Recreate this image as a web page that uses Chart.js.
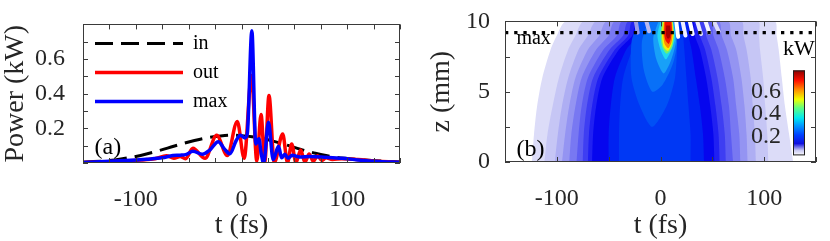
<!DOCTYPE html>
<html>
<head>
<meta charset="utf-8">
<script src="https://cdn.jsdelivr.net/npm/chart.js@4"></script>
<style>
  body { margin: 0; background: #fff; }
  #chartA { position: absolute; left: 0; top: 0; }
  #chartB { position: absolute; left: 420px; top: 0; }
</style>
</head>
<body>
<canvas id="chartA" width="420" height="241"></canvas>
<canvas id="chartB" width="410" height="241"></canvas>
<script>
const serif = '"Liberation Serif", "Times New Roman", serif';
const ink = '#262626';

// (a) power profiles, t in fs, P in kW
const tIn = [-150, -140, -130, -120, -110, -100, -90, -80, -70, -60, -50, -40, -30, -20, -10, 0,
  10, 20, 30, 40, 50, 60, 70, 80, 90, 100, 110, 120, 130, 140, 150];
const pIn = [0.005, 0.008, 0.012, 0.018, 0.027, 0.038, 0.052, 0.068, 0.086, 0.104, 0.121, 0.136, 0.148, 0.156, 0.16, 0.158,
  0.152, 0.141, 0.126, 0.109, 0.09, 0.072, 0.056, 0.043, 0.033, 0.026, 0.02, 0.016, 0.012, 0.009, 0.006];

const tOut = [-150, -130, -110, -95, -82, -71, -64, -58, -53, -46, -34.5, -23.5, -13.5, -4, 2.5, 9.5, 14.5, 18.5, 22, 26,
  31, 39, 43.5, 47.5, 51.5, 56, 60, 64, 68, 72, 76, 80, 86, 95, 110, 130, 150];
const pOut = [0.003, 0.006, 0.012, 0.018, 0.025, 0.042, 0.028, 0.038, 0.025, 0.085, 0.027, 0.16, 0.043, 0.24, 0.027, 0.505, 0.01, 0.28, 0.005, 0.39,
  0.003, 0.167, 0.003, 0.11, 0.003, 0.075, 0.005, 0.052, 0.01, 0.042, 0.015, 0.03, 0.02, 0.025, 0.02, 0.01, 0.004];

const tMax = [-150, -130, -110, -90, -75, -65, -58, -52, -46, -37, -30, -22, -16, -11, -5, -1, 3, 5.5, 9.8, 13.5,
  16.5, 18.5, 21, 25.5, 30, 35, 38, 41, 44, 48, 55, 65, 80, 95, 110, 130, 150];
const pMax = [0.003, 0.008, 0.014, 0.022, 0.03, 0.043, 0.045, 0.05, 0.068, 0.05, 0.075, 0.123, 0.08, 0.053, 0.13, 0.16, 0.145, 0.17, 0.763, 0.11,
  0.14, 0.06, 0.0, 0.235, 0.02, 0.096, 0.03, 0.05, 0.028, 0.045, 0.035, 0.038, 0.033, 0.027, 0.018, 0.009, 0.004];

// (b) contour bands: left / right edge in t (fs) at each z row (mm)
const zRows = [0, 2, 4, 6, 8, 9, 10];
const bandLeft = [
  [-124, -122, -119, -114, -106, -100, -91],
  [-112, -109, -104, -98, -89, -82, -74],
  [-102, -99, -95, -89, -79, -70, -62],
  [-95, -92, -88, -82, -70, -59, -52],
  [-88, -86, -82, -76, -62, -50, -44],
  [-81, -79, -76, -70, -55, -42, -37],
  [-75, -74, -71, -65, -49, -36, -31],
  [-70, -69, -66, -60, -44, -31, -27],
  [-66, -65, -62, -56, -40, -27, -23],
  [-50, -50, -48, -44, -33, -22, -19],
  [-40, -40, -39, -36, -27, -18, -15]
];
const bandRight = [
  [128, 124, 120, 117, 114, 112, 110],
  [104, 103, 101, 99, 96, 95, 94],
  [92, 91, 89, 87, 83, 80, 78],
  [84, 83, 81, 78, 73, 68, 65],
  [77, 76, 73, 70, 64, 59, 56],
  [70, 68, 66, 62, 56, 51, 48],
  [63, 62, 59, 55, 49, 44, 42],
  [57, 56, 53, 49, 43, 38, 36],
  [52, 51, 48, 44, 38, 33, 31],
  [42, 41, 38, 34, 30, 27, 26],
  [29, 29, 27, 25, 23, 22, 22]
];
const bandColors = ['#dcdcf8', '#c6c6f5', '#aeaef3', '#9494f2', '#7878f2', '#5c5cf2',
  '#3e3ef2', '#2020f2', '#0606ee', '#0022f2', '#0038f4'];

// bright core and hot spot near the output, outlines as (t, z)
const spotT = [
  [-22, -28, -28, -20, -8, 6, 14, 16, 14],
  [-12, -18, -16, -8, 2, 12, 16, 14],
  [-2, -7, -4, 3, 10, 15, 13],
  [0, -3, 0, 5, 10, 14, 12],
  [1.5, 0, 2, 6, 11, 13, 12],
  [2.5, 1.5, 3, 7, 10.5, 12.5, 11.5],
  [3.2, 2.8, 4, 7.5, 10.5, 11.8, 11],
  [4, 3.8, 5.2, 8, 10, 11, 10.5],
  [5.5, 5.2, 6.5, 8.5, 9.8, 9.2]
];
const spotZ = [
  [10, 8.5, 6, 4, 2.5, 4, 6, 8.5, 10],
  [10, 8.5, 6.5, 5, 5.5, 7, 8.5, 10],
  [10, 8.8, 7.3, 6.3, 7.2, 8.6, 10],
  [10, 9, 8, 7.3, 7.9, 8.8, 10],
  [10, 9, 8.1, 7.7, 8.1, 9, 10],
  [10, 9, 8.2, 7.9, 8.3, 9, 10],
  [10, 9, 8.4, 8.1, 8.5, 9.2, 10],
  [9.95, 9, 8.6, 8.4, 8.8, 9.4, 9.95],
  [9.7, 9.1, 8.8, 8.8, 9.2, 9.7]
];
const spotColors = ['#0050f6', '#0870f8', '#18a0f8', '#20d8f0', '#70f070', '#f8f000', '#ff8a00', '#f01000', '#a80000'];

// interference streaks at the top edge
const streakT0 = [-24, -14, 15, 21, 28, 35, 43, 51];
const streakT1 = [-22, -11, 17, 24, 31, 39, 47, 56];
const streakZ1 = [9.2, 9.3, 8.9, 9.0, 9.1, 9.1, 9.2, 9.3];
const streakColors = ['#9a9ae8', '#b8b8f0', '#ffffff', '#f0f0ff', '#ffffff', '#e8e8fa', '#f4f4ff', '#dcdcf6'];

const maxZ = 9.2;

// colour bar
const cbStops = [0, 0.06, 0.14, 0.24, 0.36, 0.44, 0.56, 0.66, 0.77, 0.88, 1];
const cbColors = ['#ffffff', '#c8c8f2', '#1010e0', '#0040ff', '#00a0ff', '#00e8f0',
  '#60ff80', '#f0ff00', '#ff9000', '#ff1000', '#8c0000'];
const cbMin = 0.03, cbMax = 0.79;
const cbTicks = [0.2, 0.4, 0.6];

const xy = (ts, vs) => ts.map((t, i) => ({x: t, y: vs[i]}));

// box + inward ticks on all four sides
const frameTicks = {
  id: 'frameTicks',
  afterDatasetsDraw(chart) {
    const {ctx, chartArea: a, scales: {x, y}} = chart;
    ctx.save();
    ctx.strokeStyle = '#3a3a3a';
    ctx.lineWidth = 1;
    ctx.beginPath();
    x.ticks.forEach(tk => {
      const px = Math.round(x.getPixelForValue(tk.value)) + 0.5;
      ctx.moveTo(px, a.bottom); ctx.lineTo(px, a.bottom - 5);
      ctx.moveTo(px, a.top); ctx.lineTo(px, a.top + 5);
    });
    y.ticks.forEach(tk => {
      const py = Math.round(y.getPixelForValue(tk.value)) + 0.5;
      ctx.moveTo(a.left, py); ctx.lineTo(a.left + 5, py);
      ctx.moveTo(a.right, py); ctx.lineTo(a.right - 5, py);
    });
    ctx.stroke();
    ctx.strokeRect(Math.round(a.left) + 0.5, Math.round(a.top) + 0.5, Math.round(a.width) - 1, Math.round(a.height) - 1);
    ctx.restore();
  }
};

const lineLegend = {
  id: 'lineLegend',
  afterDatasetsDraw(chart) {
    const {ctx, chartArea: a} = chart;
    ctx.save();
    chart.data.datasets.forEach((ds, i) => {
      const y = a.top + 19 + i * 29;
      ctx.strokeStyle = ds.borderColor;
      ctx.lineWidth = ds.borderWidth;
      ctx.setLineDash(ds.borderDash || []);
      ctx.beginPath();
      ctx.moveTo(a.left + 12, y);
      ctx.lineTo(a.left + 100, y);
      ctx.stroke();
      ctx.setLineDash([]);
      ctx.fillStyle = '#000';
      ctx.font = '20px ' + serif;
      ctx.textBaseline = 'middle';
      ctx.fillText(ds.label, a.left + 110, y);
    });
    ctx.restore();
  }
};

const labelA = {
  id: 'labelA',
  afterDatasetsDraw(chart) {
    const {ctx, scales: {x, y}} = chart;
    ctx.save();
    ctx.fillStyle = '#000';
    ctx.font = '24px ' + serif;
    ctx.fillText('(a)', x.getPixelForValue(-139), y.getPixelForValue(0.053));
    ctx.restore();
  }
};

const labelB = {
  id: 'labelB',
  afterDatasetsDraw(chart) {
    const {ctx, chartArea: a, scales: {x, y}} = chart;
    ctx.save();
    ctx.fillStyle = '#000';
    ctx.font = '24px ' + serif;
    ctx.fillText('(b)', x.getPixelForValue(-139), y.getPixelForValue(0.4));
    ctx.font = '20px ' + serif;
    ctx.fillText('max', x.getPixelForValue(-139), y.getPixelForValue(8.4));

    // colour bar
    const left = a.right - 23, w = 12, top = a.top + 49, bottom = a.top + 134;
    const g = ctx.createLinearGradient(0, bottom, 0, top);
    cbStops.forEach((s, i) => g.addColorStop(s, cbColors[i]));
    ctx.fillStyle = g;
    ctx.fillRect(left, top, w, bottom - top);
    ctx.strokeStyle = '#202020';
    ctx.lineWidth = 1;
    ctx.strokeRect(left + 0.5, top + 0.5, w - 1, bottom - top - 1);
    ctx.fillStyle = ink;
    ctx.font = '24px ' + serif;
    ctx.textAlign = 'right';
    ctx.textBaseline = 'middle';
    cbTicks.forEach(v => {
      const py = bottom - (v - cbMin) / (cbMax - cbMin) * (bottom - top);
      ctx.fillText(v.toFixed(1), left - 12, py);
    });
    ctx.textAlign = 'left';
    ctx.textBaseline = 'alphabetic';
    ctx.fillStyle = '#000';
    ctx.font = '22px ' + serif;
    ctx.fillText('kW', a.right - 33, a.top + 34);
    ctx.restore();
  }
};

const tickFont = {family: serif, size: 24};
const titleFont = {family: serif, size: 28, lineHeight: 1.1};

new Chart(document.getElementById('chartA'), {
  type: 'scatter',
  data: {
    datasets: [
      {label: 'in', data: xy(tIn, pIn), showLine: true, borderColor: '#000000', borderWidth: 3,
        borderDash: [18, 8], pointRadius: 0, cubicInterpolationMode: 'monotone', order: 3},
      {label: 'out', data: xy(tOut, pOut), showLine: true, borderColor: '#ff0000', borderWidth: 3.5,
        pointRadius: 0, cubicInterpolationMode: 'monotone', order: 2},
      {label: 'max', data: xy(tMax, pMax), showLine: true, borderColor: '#0000ff', borderWidth: 3.5,
        pointRadius: 0, cubicInterpolationMode: 'monotone', order: 1}
    ]
  },
  options: {
    responsive: false,
    animation: false,
    layout: {padding: {top: 13, right: 20, left: 0, bottom: 0}},
    plugins: {legend: {display: false}, tooltip: {enabled: false}},
    scales: {
      x: {
        type: 'linear', min: -150, max: 150,
        grid: {display: false}, border: {display: false},
        ticks: {stepSize: 25, autoSkip: false, maxRotation: 0, padding: 14, font: tickFont, color: ink,
          callback: v => (v % 100 === 0 ? String(v) : '')},
        title: {display: true, text: 't (fs)', font: titleFont, color: ink, padding: 0},
        afterFit: s => { s.height = 78; }
      },
      y: {
        min: 0, max: 0.8,
        grid: {display: false}, border: {display: false},
        ticks: {stepSize: 0.1, autoSkip: false, padding: 10, font: tickFont, color: ink,
          callback: v => ([0.2, 0.4, 0.6].some(k => Math.abs(k - v) < 1e-6) ? v.toFixed(1) : '')},
        title: {display: true, text: 'Power (kW)', font: titleFont, color: ink, padding: 0},
        afterFit: s => { s.width = 83; }
      }
    }
  },
  plugins: [frameTicks, lineLegend, labelA]
});

// contour datasets, outer bands first
const sets = [];
const poly = (pts, color) => ({data: pts, showLine: true, fill: 'shape', backgroundColor: color,
  borderWidth: 0, pointRadius: 0, tension: 0.25, clip: 0});
bandLeft.forEach((left, k) => {
  const pts = zRows.map((z, i) => ({x: left[i], y: z}));
  for (let i = zRows.length - 1; i >= 0; i--) pts.push({x: bandRight[k][i], y: zRows[i]});
  sets.push(poly(pts, bandColors[k]));
});
spotT.forEach((ts, k) => sets.push(poly(xy(ts, spotZ[k]), spotColors[k])));
streakT0.forEach((t0, k) => sets.push({
  data: [{x: t0, y: 10.1}, {x: streakT1[k], y: streakZ1[k]}], showLine: true,
  borderColor: streakColors[k], borderWidth: 4, borderCapStyle: 'round', pointRadius: 0, clip: 0
}));
sets.push({data: [{x: -150, y: maxZ}, {x: 150, y: maxZ}], showLine: true, borderColor: '#000000',
  borderWidth: 3.3, borderDash: [3.3, 5.9], pointRadius: 0, clip: 0});
sets.forEach((s, i) => { s.order = sets.length - i; });

new Chart(document.getElementById('chartB'), {
  type: 'scatter',
  data: {datasets: sets},
  options: {
    responsive: false,
    animation: false,
    layout: {padding: {top: 13, right: 10, left: 6, bottom: 0}},
    plugins: {legend: {display: false}, tooltip: {enabled: false}},
    scales: {
      x: {
        type: 'linear', min: -150, max: 150,
        grid: {display: false}, border: {display: false},
        ticks: {stepSize: 50, autoSkip: false, maxRotation: 0, padding: 14, font: tickFont, color: ink,
          callback: v => (v % 100 === 0 ? String(v) : '')},
        title: {display: true, text: 't (fs)', font: titleFont, color: ink, padding: 0},
        afterFit: s => { s.height = 79; }
      },
      y: {
        min: 0, max: 10,
        grid: {display: false}, border: {display: false},
        ticks: {stepSize: 2.5, autoSkip: false, padding: 7, font: tickFont, color: ink,
          callback: v => (v % 5 === 0 ? String(v) : '')},
        title: {display: true, text: 'z (mm)', font: titleFont, color: ink, padding: 0},
        afterFit: s => { s.width = 79; }
      }
    }
  },
  plugins: [frameTicks, labelB]
});
</script>
</body>
</html>
